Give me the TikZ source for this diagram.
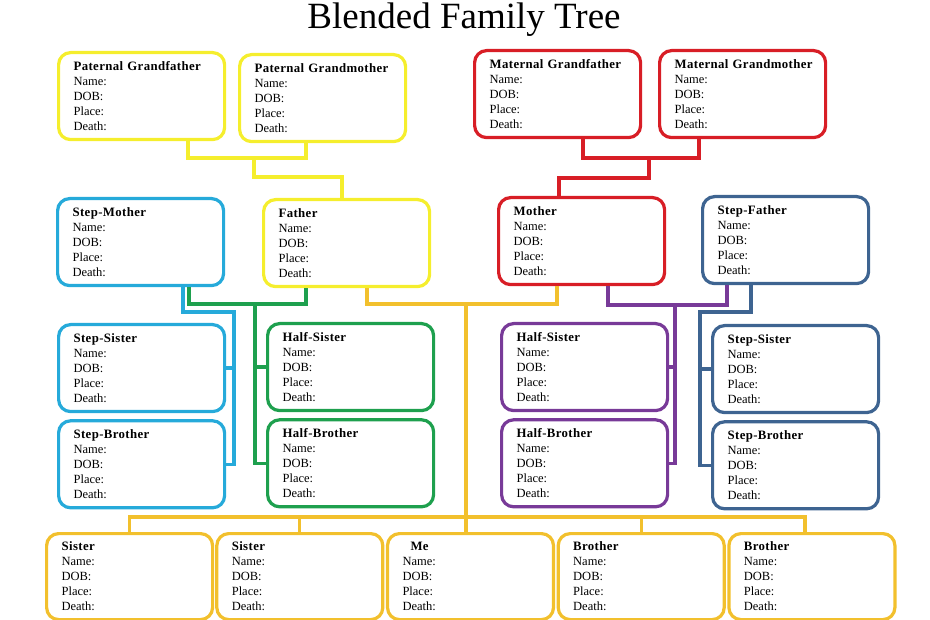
\documentclass[tikz,border=0pt]{standalone}
\usepackage{fontspec}
\setmainfont{Liberation Serif}
\usetikzlibrary{positioning}

\definecolor{patyellow}{RGB}{245,238,45}
\definecolor{matred}{RGB}{216,30,38}
\definecolor{stepblue}{RGB}{38,170,218}
\definecolor{halfgreen}{RGB}{30,160,78}
\definecolor{kidgold}{RGB}{242,192,45}
\definecolor{halfpurple}{RGB}{120,58,152}
\definecolor{stepnavy}{RGB}{62,100,145}

\newcommand{\famcard}[1]{\mbox{\fontsize{12.8}{15}\bfseries\addfontfeature{LetterSpace=3}#1}\\Name:\\DOB:\\Place:\\Death:}

\begin{document}
\begin{tikzpicture}
                [%%%%%%%%%%%%%%%%%%%%%%%%%%%%%%%%%%%%%%%%%%%%%%%%%%%%%%%%%%
                    x=1pt,y=-1pt,
                    member/.style={draw=#1,line width=3.2pt,rounded corners=12pt,
                                   minimum width=166pt,minimum height=87pt,
                                   text width=136pt,align=left,anchor=north west,
                                   font=\fontsize{12.5}{15}\selectfont},
                    link/.style={draw=#1,line width=3.2pt}
                ]%%%%%%%%%%%%%%%%%%%%%%%%%%%%%%%%%%%%%%%%%%%%%%%%%%%%%%%%%%
                \useasboundingbox (0,0) rectangle (930,620);
                \node[anchor=base,font=\fontsize{37}{40}\selectfont] (title) at (464,29) {Blended Family Tree};

                % grandparents
                \node[member=patyellow] (pgf) at (57,51) {\famcard{Paternal Grandfather}};
                \node[member=patyellow] (pgm) at (238,53) {\famcard{Paternal Grandmother}};
                \node[member=matred] (mgf) at (473,49) {\famcard{Maternal Grandfather}};
                \node[member=matred] (mgm) at (658,49) {\famcard{Maternal Grandmother}};

                % parents
                \node[member=stepblue] (smother) at (56,197) {\famcard{Step-Mother}};
                \node[member=patyellow] (father) at (262,198) {\famcard{Father}};
                \node[member=matred] (mother) at (497,196) {\famcard{Mother}};
                \node[member=stepnavy] (sfather) at (701,195) {\famcard{Step-Father}};

                % step and half siblings
                \node[member=stepblue] (ssisL) at (57,323) {\famcard{Step-Sister}};
                \node[member=stepblue,below=6pt of ssisL] (sbroL) {\famcard{Step-Brother}};
                \node[member=halfgreen] (hsisL) at (266,322) {\famcard{Half-Sister}};
                \node[member=halfgreen,below=6pt of hsisL] (hbroL) {\famcard{Half-Brother}};
                \node[member=halfpurple] (hsisR) at (500,322) {\famcard{Half-Sister}};
                \node[member=halfpurple,below=6pt of hsisR] (hbroR) {\famcard{Half-Brother}};
                \node[member=stepnavy] (ssisR) at (711,324) {\famcard{Step-Sister}};
                \node[member=stepnavy,below=6pt of ssisR] (sbroR) {\famcard{Step-Brother}};

                % children
                \node[member=kidgold,minimum height=86pt] (sis1) at (45,532) {\famcard{Sister}};
                \node[member=kidgold,minimum height=86pt,right=1pt of sis1] (sis2) {\famcard{Sister}};
                \node[member=kidgold,minimum height=86pt,right=1.5pt of sis2] (me) {\famcard{\hspace*{8pt}Me}};
                \node[member=kidgold,minimum height=86pt,right=1.5pt of me] (bro1) {\famcard{Brother}};
                \node[member=kidgold,minimum height=86pt,right=1.5pt of bro1] (bro2) {\famcard{Brother}};

                % junctions
                \coordinate (pj) at (254,158);
                \coordinate (pk) at (254,177);
                \coordinate (mj) at (649,158);
                \coordinate (mk) at (649,178);
                \coordinate (gj) at (255,304);
                \coordinate (bj) at (234,312);
                \coordinate (yj) at (466,304);
                \coordinate (bus) at (466,517);
                \coordinate (uj) at (675,305);
                \coordinate (dj) at (700,312);

                \draw[link=patyellow] ([xshift=131pt]pgf.south west) |- (pj) -| ([xshift=68pt]pgm.south west);
                \draw[link=patyellow] (pj) -- (pk) -| ([xshift=80pt]father.north west);
                \draw[link=matred] ([xshift=110pt]mgf.south west) |- (mj) -| ([xshift=41pt]mgm.south west);
                \draw[link=matred] (mj) -- (mk) -| ([xshift=62pt]mother.north west);

                \draw[link=stepblue] ([xshift=127pt]smother.south west) |- (bj) |- (sbroL.east);
                \draw[link=stepblue] (bj |- ssisL.east) -- (ssisL.east);
                \draw[link=halfgreen] ([xshift=133pt]smother.south west) |- (gj) -| ([xshift=44pt]father.south west);
                \draw[link=halfgreen] (gj) |- (hbroL.west);
                \draw[link=halfgreen] (gj |- hsisL.west) -- (hsisL.west);

                \draw[link=halfpurple] ([xshift=111pt]mother.south west) |- (uj) -| ([xshift=26pt]sfather.south west);
                \draw[link=halfpurple] (uj) |- (hbroR.east);
                \draw[link=halfpurple] (uj |- hsisR.east) -- (hsisR.east);
                \draw[link=stepnavy] ([xshift=50pt]sfather.south west) |- (dj) |- (sbroR.west);
                \draw[link=stepnavy] (dj |- ssisR.west) -- (ssisR.west);

                \draw[link=kidgold] ([xshift=105pt]father.south west) |- (yj) -| ([xshift=60pt]mother.south west);
                \draw[link=kidgold] (yj) -- (yj |- me.north);
                \draw[link=kidgold] (sis1.north) |- (bus) -| ([xshift=-7pt]bro2.north);
                \draw[link=kidgold] (sis2.north) -- (sis2.north |- bus);
                \draw[link=kidgold] (bro1.north) -- (bro1.north |- bus);
            \end{tikzpicture}
\end{document}
